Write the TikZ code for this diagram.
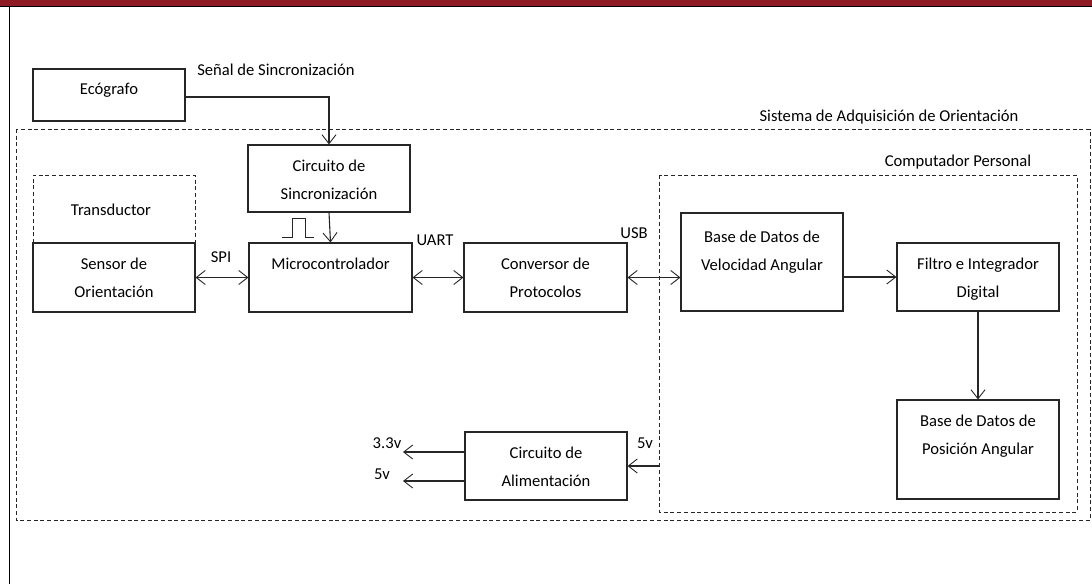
\documentclass[tikz,border=0pt]{standalone}
\usepackage{fontspec}
\setmainfont{Carlito}
\usetikzlibrary{arrows.meta}
\usetikzlibrary{calc}

\definecolor{barra}{HTML}{8E1B24}

\tikzset{
 bloque/.style={draw=black!85, line width=1.1pt, fill=white, inner sep=0pt},
 rotulo/.style={anchor=north, yshift=-7.2pt, inner sep=0pt, align=center,
  font=\fontsize{16.6}{28}\selectfont},
 etiqueta/.style={inner sep=0pt, text height=10pt, text depth=0pt,
  font=\fontsize{16.6}{28}\selectfont},
 marco/.style={draw=black!85, line width=1pt, dash pattern=on 4pt off 2.7pt},
 flecha/.style={draw=black!85, line width=1.1pt,
  -{Straight Barb[length=9pt,width=14pt,line width=0.9pt]}},
 doble/.style={draw=black!85, line width=1.1pt,
  {Straight Barb[length=9pt,width=14pt,line width=0.9pt]}-{Straight Barb[length=9pt,width=14pt,line width=0.9pt]}}
}

\begin{document}
\begin{tikzpicture}[x=1pt,y=-1pt]
\useasboundingbox (0,0) rectangle (1092,584);
\fill[barra] (0,0) rectangle (1092,6);
\draw[black, line width=1.6pt] (0,6.5)--(1092,6.5);
\draw[black, line width=1.8pt] (9.5,6.5)--(9.5,584);

\draw[marco] (16,129) rectangle (1090,520);
\draw[marco] (659,175) rectangle (1077,512);
\draw[marco] (33,243)--(33,175)--(195,175)--(195,243);

\node[etiqueta] (sistema) at (889,116) {Sistema de Adquisición de Orientación};
\node[etiqueta] (pc) at (958,161) {Computador Personal};
\node[etiqueta] (transductor) at (111,210) {Transductor};

\node[bloque, minimum width=152, minimum height=52,
 label={[rotulo, yshift=1pt]north:{\strut Ecógrafo}}] (ecografo) at (109,95) {};
\node[bloque, minimum width=162, minimum height=67,
 label={[rotulo]north:{\strut Circuito de\\Sincronización}}] (circsinc) at (329,178.5) {};
\node[bloque, minimum width=162, minimum height=69,
 label={[rotulo]north:{\strut Sensor de\\Orientación}}] (sensor) at (114,277.5) {};
\node[bloque, minimum width=163, minimum height=69,
 label={[rotulo]north:{\strut Microcontrolador}}] (micro) at (330.5,277.5) {};
\node[bloque, minimum width=163, minimum height=69,
 label={[rotulo]north:{\strut Conversor de\\Protocolos}}] (conversor) at (545.5,277.5) {};
\node[bloque, minimum width=162, minimum height=98,
 label={[rotulo, yshift=-3pt]north:{\strut Base de Datos de\\Velocidad Angular}}] (velocidad) at (762,262) {};
\node[bloque, minimum width=162, minimum height=68,
 label={[rotulo]north:{\strut Filtro e Integrador\\Digital}}] (filtro) at (978,277) {};
\node[bloque, minimum width=162, minimum height=99,
 label={[rotulo]north:{\strut Base de Datos de\\Posición Angular}}] (posicion) at (978,449.5) {};
\node[bloque, minimum width=162, minimum height=68,
 label={[rotulo]north:{\strut Circuito de\\Alimentación}}] (alimentacion) at (546,466) {};

\node[etiqueta] (senal) at (276,70) {Señal de Sincronización};
\node[etiqueta] (spi) at (221,257) {SPI};
\node[etiqueta] (uart) at (435,240) {UART};
\node[etiqueta] (usb) at (634,233) {USB};
\node[etiqueta] (cinco) at (645,443) {5v};
\node[etiqueta] (tres) at (387,443) {3.3v};
\node[etiqueta] (cincob) at (382,474) {5v};

\coordinate (pc5v) at (659,466);
\coordinate (s33) at (403,452);
\coordinate (s5) at (403,481);

\draw[flecha] ($(ecografo.east)+(0,2)$) -| (circsinc.north);
\draw[flecha] (circsinc.south) -- (micro.north);
\draw[doble] (sensor.east) -- (micro.west);
\draw[doble] (micro.east) -- (conversor.west);
\draw[doble] (conversor.east) -- (conversor.east -| velocidad.west);
\draw[flecha] (filtro.west -| velocidad.east) -- (filtro.west);
\draw[flecha] (filtro.south) -- (posicion.north);
\draw[flecha] (pc5v) -- (alimentacion.east);
\draw[flecha] (alimentacion.west |- s33) -- (s33);
\draw[flecha] (alimentacion.west |- s5) -- (s5);

\draw[black!85, line width=1pt] (282,237)--(292,237)--(292,218)--(305,218)--(305,237)--(314,237);
\end{tikzpicture}
\end{document}
